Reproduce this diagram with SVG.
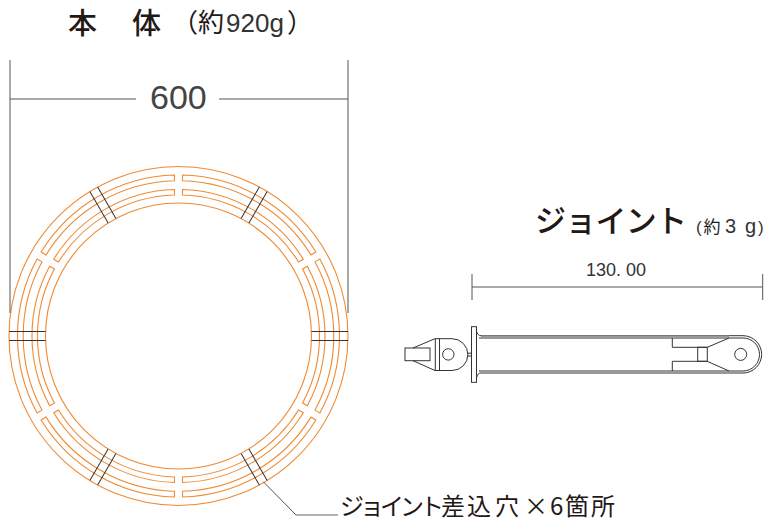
<svg xmlns="http://www.w3.org/2000/svg" width="764" height="520" viewBox="0 0 764 520">
<style>
text{font-family:"Noto Sans CJK JP","Liberation Sans",sans-serif;fill:#231815}
.o{fill:none;stroke:#f08a32;stroke-width:1.1}
.k{fill:none;stroke:#333;stroke-width:1}
.j{stroke:#333;stroke-width:1;fill:none}
.g{fill:none;stroke:#555;stroke-width:1}
.m{font-weight:500}
.n{font-family:"Liberation Sans",sans-serif;fill:#333}
</style>
<defs>
<g id="slots">
<path class="o" d="M141.39,-77.01A161 161 0 0 1 141.39,77.01L136.45,74.16A155.3 155.3 0 0 0 136.45,-74.16Z"/>
<path class="o" d="M128.83,-69.76A146.5 146.5 0 0 1 128.83,69.76L124.06,67.01A141 141 0 0 0 124.06,-67.01Z"/>
</g>
<g id="joint">
<line class="j" x1="133" y1="-4.5" x2="169.5" y2="-4.5"/>
<line class="j" x1="133" y1="4.5" x2="169.5" y2="4.5"/>
</g>
</defs>
<g id="body" transform="translate(178.5 336)">
<circle class="o" r="169.5"/>
<circle class="o" r="133"/>
<use href="#slots"/>
<use href="#slots" transform="rotate(60)"/>
<use href="#slots" transform="rotate(120)"/>
<use href="#slots" transform="rotate(180)"/>
<use href="#slots" transform="rotate(240)"/>
<use href="#slots" transform="rotate(300)"/>
<use href="#joint"/>
<use href="#joint" transform="rotate(60)"/>
<use href="#joint" transform="rotate(120)"/>
<use href="#joint" transform="rotate(180)"/>
<use href="#joint" transform="rotate(240)"/>
<use href="#joint" transform="rotate(300)"/>
</g>
<g id="joint-piece-left">
<path class="k" d="M413,348L435,338.7H452A15.9 15.9 0 0 1 452,370.5H435L413,360.7"/>
<rect class="k" x="405" y="348" width="25" height="12.7"/>
<path class="k" d="M435.3,338.7V370.5M439.5,338.7V370.5M467,353.2H471M467,356H471"/>
<circle class="k" cx="448.3" cy="354.4" r="5.7"/>
</g>
<g id="joint-piece-right">
<rect class="k" x="471.5" y="326.7" width="5" height="55.6"/>
<path class="k" d="M476.5,331Q477.5,335.7 481,335.7H743A18.6 18.6 0 0 1 743,373H481Q477.5,373 476.5,378"/>
<path class="k" d="M479,338H743A16.5 16.5 0 0 1 743,371H479"/>
<path d="M481,336.3H729" stroke="#999" stroke-width="1.5" fill="none"/>
<path class="k" d="M672.3,338V347.3H707.3L729,338M672.3,371V361.3H707.3L729,371"/>
<rect class="k" x="697.7" y="347.3" width="9.6" height="14"/>
<circle class="k" cx="740.7" cy="354.4" r="6"/>
</g>
<g id="connectors">
<path class="g" d="M10,60V313M348,60V313M10,99H136M219,99H348"/>
<path class="g" d="M472,274V300M762.7,274V300M472,287H762.7"/>
<path d="M263.3,481.7L296,515" class="g"/>
<path d="M296,515H338" fill="none" stroke="#999" stroke-width="1.3"/>
</g>
<g id="labels">
<text class="m" x="68" y="34" font-size="29">本</text>
<text class="m" x="132" y="34" font-size="29">体</text>
<text y="32" font-size="26"><tspan x="172">（</tspan><tspan x="198">約</tspan><tspan x="226" class="n">920g</tspan><tspan x="287">）</tspan></text>
<text class="n" x="150" y="109" font-size="34" style="fill:#444">600</text>
<text class="m" x="535" y="232" font-size="31" textLength="152">ジョイント</text>
<text y="233" font-size="17"><tspan x="696" class="n">(</tspan><tspan x="703.5">約</tspan><tspan x="725" font-size="20" class="n">3</tspan><tspan x="745" font-size="20" class="n">g</tspan><tspan x="758" class="n">)</tspan></text>
<text class="n" x="586" y="276" font-size="18">130. 00</text>
<text x="340 360 380 400 420 441 467 495 524 550 565 591" y="515" font-size="24">ジョイント差込穴×6箇所</text>
</g>
</svg>
